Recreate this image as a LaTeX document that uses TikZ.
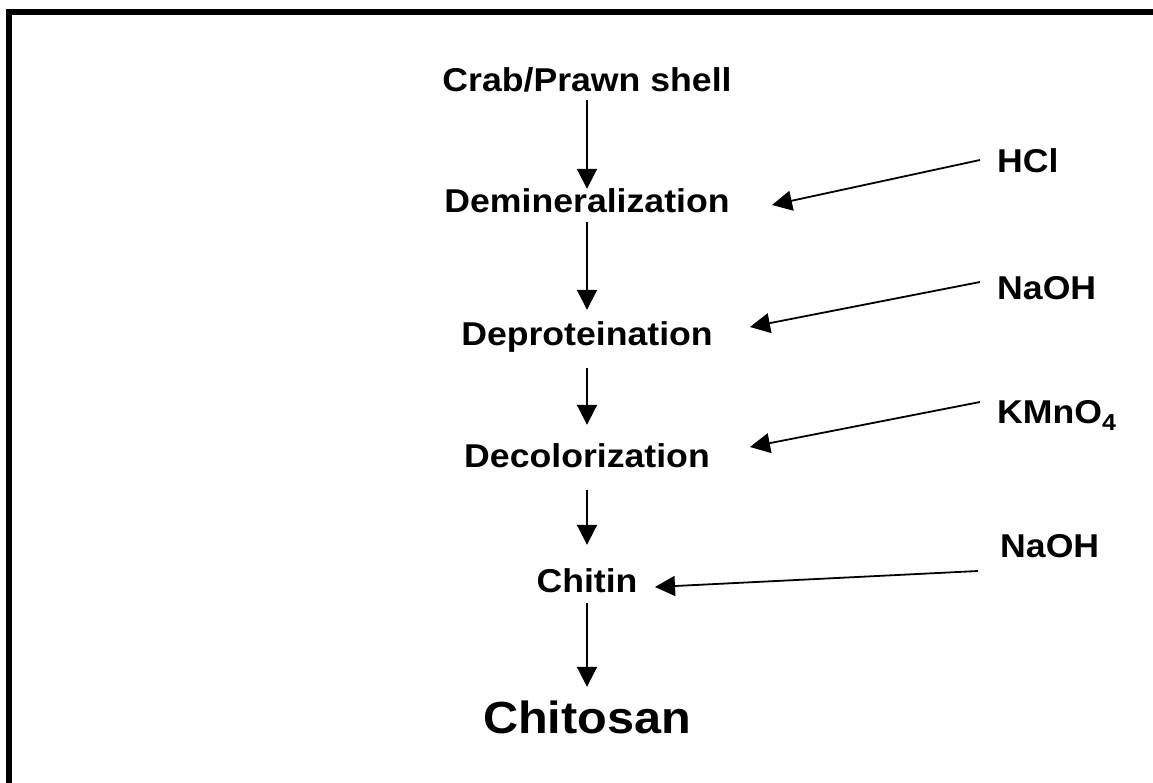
\documentclass[tikz,border=0pt]{standalone}
\usepackage{fontspec}
\setmainfont{Liberation Sans}[FakeStretch=1.08]
\usepackage{tikz}
\usetikzlibrary{arrows.meta}

\begin{document}
\begin{tikzpicture}[x=1pt, y=-1pt, >={Triangle[length=20pt,width=20pt]},
	stage/.style={anchor=base, inner sep=0pt, text height=24pt, text depth=7pt, font=\fontsize{33}{40}\selectfont\bfseries},
	reagent/.style={anchor=base west, inner sep=0pt, font=\fontsize{33}{40}\selectfont\bfseries},
	flow/.style={->, line width=2pt},
	feed/.style={->, line width=1.8pt}]
	\useasboundingbox (0,0) rectangle (1153,783);
	% frame (only top and left edges are visible)
	\draw[line width=5.5pt] (9,783) -- (9,12) -- (1153,12);
	% process steps
	\node[stage] (crab) at (587,92) {Crab/Prawn shell};
	\node[stage] (demin) at (587,213) {Demineralization};
	\node[stage] (deprot) at (587,345) {Deproteination};
	\node[stage] (decol) at (587,467) {Decolorization};
	\node[stage] (chitin) at (587,592) {Chitin};
	\node[stage, text height=32pt, text depth=9pt, font=\fontsize{45}{54}\selectfont\bfseries] (chitosan) at (587,733) {Chitosan};
	\foreach \a/\b/\s/\e in {crab/demin/1/0, demin/deprot/2/11, deprot/decol/16/18, decol/chitin/16/23, chitin/chitosan/4/14}
		\draw[flow, shorten <=\s pt, shorten >=\e pt] (\a.south) -- (\b.north);
	% reagents
	\node[reagent] (hcl) at (997,173) {HCl};
	\node[reagent] (naoh-a) at (997,300) {NaOH};
	\node[reagent] (kmno) at (997,423) {KMnO\textsubscript{4}};
	\node[reagent] (naoh-b) at (1000,557) {NaOH};
	\coordinate (hcl-in) at (980,160);
	\coordinate (hcl-out) at (772,205);
	\coordinate (naoh-a-in) at (980,282);
	\coordinate (naoh-a-out) at (750,327);
	\coordinate (kmno-in) at (980,402);
	\coordinate (kmno-out) at (750,447);
	\coordinate (naoh-b-in) at (978,571);
	\coordinate (naoh-b-out) at (655,587);
	\foreach \r in {hcl, naoh-a, kmno, naoh-b}
		\draw[feed] (\r-in) -- (\r-out);
\end{tikzpicture}
\end{document}
